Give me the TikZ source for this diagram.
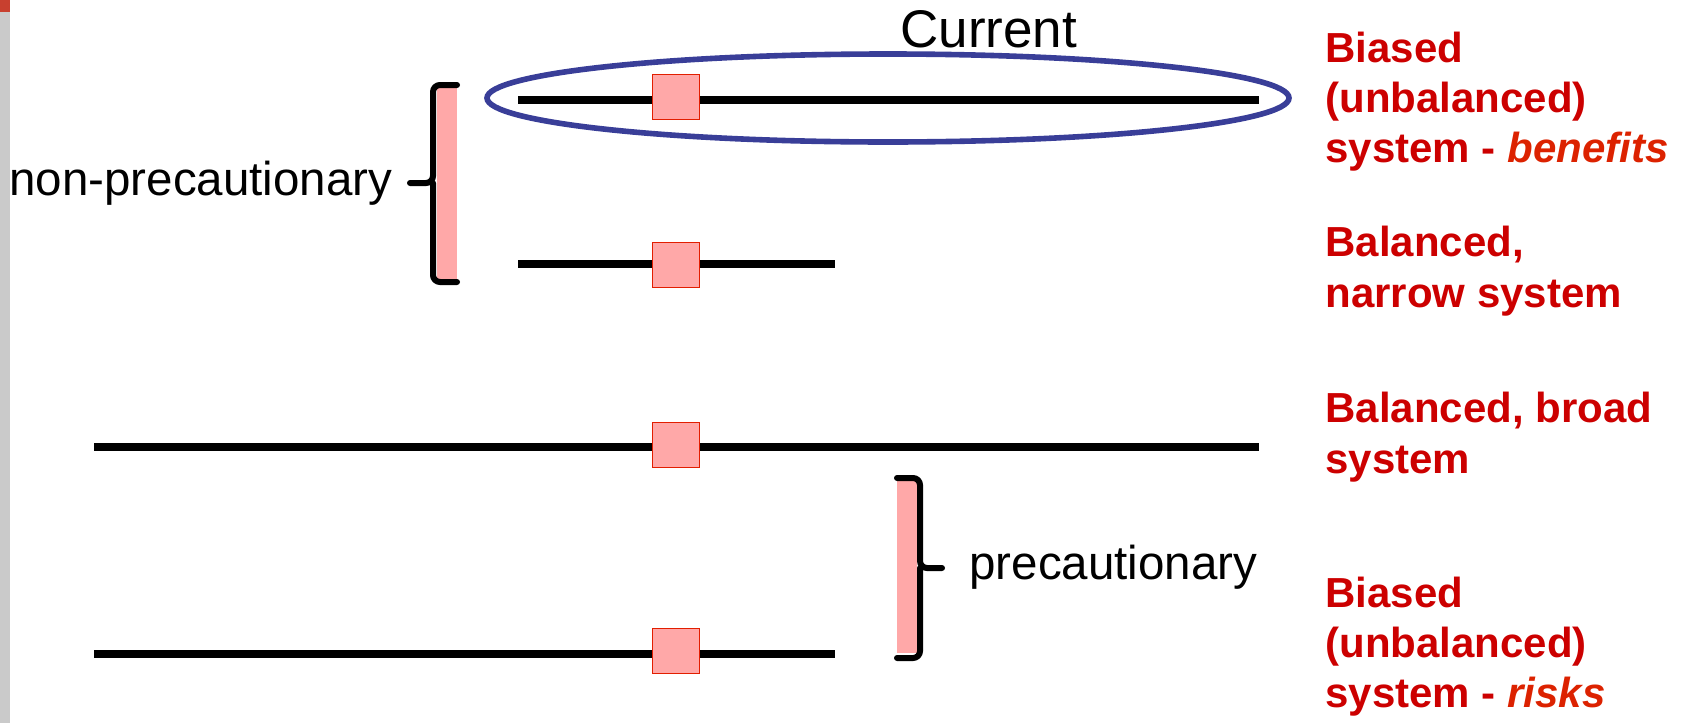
\documentclass[tikz,border=0pt]{standalone}
\usepackage{fontspec}
\setmainfont{Liberation Sans}
\usetikzlibrary{shapes.geometric}
\definecolor{labred}{RGB}{204,0,0}
\definecolor{emred}{RGB}{220,34,0}
\definecolor{ringblue}{RGB}{57,62,152}
\definecolor{softpink}{RGB}{255,168,168}
\definecolor{markred}{RGB}{226,30,0}
\definecolor{sidegrey}{RGB}{202,202,202}
\definecolor{sidered}{RGB}{200,64,47}
\begin{document}
\begin{tikzpicture}[x=0.5pt,y=-0.5pt,
  bar/.style={line width=4pt},
  marker/.style={draw=markred,fill=softpink,line width=0.9pt,
    minimum width=23.5pt,minimum height=22.5pt,inner sep=0pt},
  bracket/.style={line width=3pt,rounded corners=3.5pt,line cap=round},
  lbl/.style={inner sep=0pt,anchor=base west,font=\fontsize{23.75}{28}\selectfont},
  note/.style={inner sep=0pt,anchor=base west,text=labred,
    font=\bfseries\fontsize{21}{25}\selectfont},
]
\useasboundingbox (0,0) rectangle (1696,723);

% side strip
\fill[sidegrey] (0,0) rectangle (10,723);
\fill[sidered] (0,0) rectangle (10,12);

% highlight ring around the current system
\node[draw=ringblue,ellipse,line width=2.8pt,inner sep=0pt,
  minimum width=401pt,minimum height=44pt] (ring) at (888,98) {};
\node[lbl,font=\fontsize{26.5}{30}\selectfont] (cur) at (900,47) {Current};

% system bars
\coordinate (a1) at (518,100);  \coordinate (b1) at (1259,100);
\coordinate (a2) at (518,264);  \coordinate (b2) at (835,264);
\coordinate (a3) at (94,447);   \coordinate (b3) at (1259,447);
\coordinate (a4) at (94,654);   \coordinate (b4) at (835,654);
\draw[bar] (a1) -- (b1);
\draw[bar] (a2) -- (b2);
\draw[bar] (a3) -- (b3);
\draw[bar] (a4) -- (b4);
\node[marker] (m1) at (676,97) {};
\node[marker] (m2) at (676,265) {};
\node[marker] (m3) at (676,445) {};
\node[marker] (m4) at (676,651) {};

% non-precautionary bracket
\fill[softpink] (437,88) rectangle (457,280);
\coordinate (lt) at (457,85);
\coordinate (lm) at (433,183);
\coordinate (lb) at (457,282);
\coordinate (ltip) at (410,183);
\draw[bracket] (lt) -| (lm) -- (ltip);
\draw[bracket] (lm) |- (lb);
\node[lbl] (np) at (9,195) {non-precautionary};

% precautionary bracket
\fill[softpink] (897,480) rectangle (917,653);
\coordinate (rt) at (897,478);
\coordinate (rm) at (920,568);
\coordinate (rb) at (897,658);
\coordinate (rtip) at (942,568);
\draw[bracket] (rt) -| (rm) -- (rtip);
\draw[bracket] (rm) |- (rb);
\node[lbl] (pc) at (969,579) {precautionary};

% system descriptions
\node[note] (t1a) at (1325,62) {Biased};
\node[note] (t1b) at (1325,112) {(unbalanced)};
\node[note] (t1c) at (1325,162) {system - \textcolor{emred}{\itshape benefits}};
\node[note] (t2a) at (1325,256) {Balanced,};
\node[note] (t2b) at (1325,307) {narrow system};
\node[note] (t3a) at (1325,422) {Balanced, broad};
\node[note] (t3b) at (1325,473) {system};
\node[note] (t4a) at (1325,607) {Biased};
\node[note] (t4b) at (1325,657) {(unbalanced)};
\node[note] (t4c) at (1325,707) {system - \textcolor{emred}{\itshape risks}};
\end{tikzpicture}
\end{document}
